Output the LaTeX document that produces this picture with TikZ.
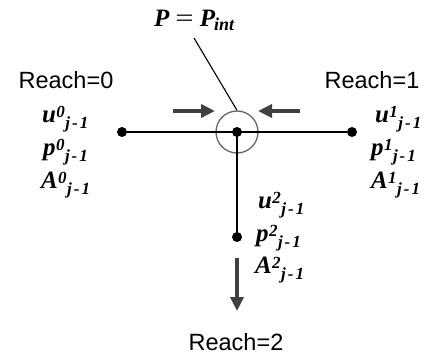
\documentclass[tikz,border=0pt]{standalone}
\usepackage{fontspec}
\setmainfont{Liberation Serif}
\newfontfamily\arialf{Liberation Sans}
\usetikzlibrary{arrows.meta}
\newcommand\scr[1]{{\fontsize{17}{17}\selectfont #1}}
\newcommand\varlab[2]{{\fontsize{25}{25}\selectfont\bfseries\itshape #1\kern0.3pt\raisebox{4.5pt}{\scr{#2}}\kern0.5pt\raisebox{-6pt}{\scr{j\kern2pt-\kern2pt1}}}}
\begin{document}
\begin{tikzpicture}[x=1pt,y=-1pt,
  wire/.style={line width=1.6pt,black},
  dotc/.style={circle,fill=black,inner sep=0pt,minimum size=10pt},
  flow/.style={line width=4.5pt,draw=black!75,-{Triangle[length=14pt,width=13pt]}},
  reach/.style={font=\arialf\fontsize{23.5}{23.5}\selectfont,inner sep=0pt},
  vlab/.style={anchor=base west,inner sep=0pt}]
\useasboundingbox (0,0) rectangle (427,358);
\node[dotc] (c) at (237,132) {};
\node[circle,draw=black!60,line width=1.3pt,minimum size=42pt,inner sep=0pt] (ring) at (237,132) {};
\node[dotc] (l) at (122,132) {};
\node[dotc] (r) at (352,132) {};
\node[dotc] (b) at (237,237) {};
\draw[wire] (l) -- (r);
\draw[wire] (c.center) -- (b.center);
\node[inner sep=0pt,anchor=base west] (pint) at (154,27) {\fontsize{25}{25}\selectfont\bfseries\itshape P\kern6pt{\normalfont\scalebox{1.3}[1]{=}}\kern6pt P\kern-1pt\raisebox{-4pt}{{\fontsize{18}{18}\selectfont int}}};
\coordinate (pe) at (194,38);
\draw[line width=1.1pt] (pe) -- (ring.north);
\coordinate (la) at (173,111);
\coordinate (lb) at (215,111);
\coordinate (ra) at (300,111);
\coordinate (rb) at (258,111);
\coordinate (da) at (237,258);
\coordinate (db) at (237,311);
\draw[flow] (la) -- (lb);
\draw[flow] (ra) -- (rb);
\draw[flow] (da) -- (db);
\node[reach,anchor=base] (r0) at (66,89) {Reach=0};
\node[reach,anchor=base] (r1) at (372,89) {Reach=1};
\node[reach,anchor=base] (r2) at (236,350) {Reach=2};
\node[vlab] (u0) at (42,122) {\varlab{u}{0}};
\node[vlab] (p0) at (43,155) {\varlab{p}{0}};
\node[vlab] (a0) at (41,188) {\varlab{A}{0}};
\node[vlab] (u1) at (375,122) {\varlab{u}{1}};
\node[vlab] (p1) at (371,155) {\varlab{p}{1}};
\node[vlab] (a1) at (371,188) {\varlab{A}{1}};
\node[vlab] (u2) at (258,208) {\varlab{u}{2}};
\node[vlab] (p2) at (256,241) {\varlab{p}{2}};
\node[vlab] (a2) at (255,273) {\varlab{A}{2}};
\end{tikzpicture}
\end{document}
